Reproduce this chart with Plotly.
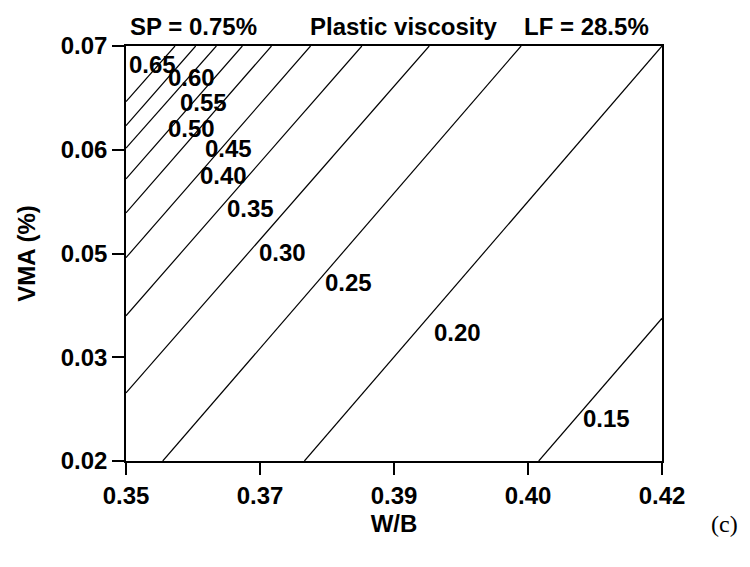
import plotly.graph_objects as go

# Contour levels of plastic viscosity and the end points of each (straight) contour line
levels = [0.65, 0.60, 0.55, 0.50, 0.45, 0.40, 0.35, 0.30, 0.25, 0.20, 0.15]
line_x0 = [0.35, 0.35, 0.35, 0.35, 0.35, 0.35, 0.35, 0.35, 0.3548, 0.3733, 0.4039]
line_y0 = [0.0633, 0.0604, 0.0577, 0.0540, 0.0499, 0.0445, 0.0375, 0.0282, 0.02, 0.02, 0.02]
line_x1 = [0.3564, 0.3591, 0.3618, 0.3652, 0.3690, 0.3741, 0.3808, 0.3896, 0.4016, 0.42, 0.42]
line_y1 = [0.07, 0.07, 0.07, 0.07, 0.07, 0.07, 0.07, 0.07, 0.07, 0.07, 0.0372]

# Contour label positions
label_x = [0.3534, 0.3585, 0.3601, 0.3585, 0.3634, 0.3627, 0.3663, 0.3704, 0.3791, 0.3933, 0.4127]
label_y = [0.0678, 0.0662, 0.0632, 0.0601, 0.0576, 0.0544, 0.0504, 0.0451, 0.0415, 0.0355, 0.0251]

# Axis ticks
x_tickvals = [0.35, 0.3675, 0.385, 0.4025, 0.42]
x_ticktext = ["0.35", "0.37", "0.39", "0.40", "0.42"]
y_tickvals = [0.02, 0.0325, 0.045, 0.0575, 0.07]
y_ticktext = ["0.02", "0.03", "0.05", "0.06", "0.07"]

FONT = "Liberation Sans, Arial, sans-serif"
FS = 24

fig = go.Figure()
for lv, xa, ya, xb, yb in zip(levels, line_x0, line_y0, line_x1, line_y1):
    fig.add_trace(go.Scatter(x=[xa, xb], y=[ya, yb], mode="lines",
                             line=dict(color="black", width=1.2),
                             name=f"{lv:.2f}", showlegend=False, hoverinfo="skip"))

for lv, lx, ly in zip(levels, label_x, label_y):
    fig.add_annotation(x=lx, y=ly, xref="x", yref="y", text=f"{lv:.2f}",
                       showarrow=False,
                       font=dict(family=FONT, size=FS, color="black", weight="bold"))

top_texts = [("SP = 0.75%", 193), ("Plastic viscosity", 403), ("LF = 28.5%", 586)]
for txt, px in top_texts:
    fig.add_annotation(x=(px - 126) / 536, y=1 + (46 - 26) / 415, xref="paper", yref="paper",
                       text=txt, showarrow=False, xanchor="center", yanchor="middle",
                       font=dict(family=FONT, size=FS, color="black", weight="bold"))

fig.add_annotation(x=(724 - 126) / 536, y=-(524 - 461) / 415, xref="paper", yref="paper",
                   text="(c)", showarrow=False, xanchor="center", yanchor="middle",
                   font=dict(family="Liberation Serif, Times New Roman, serif", size=24, color="black"))

axis_common = dict(showline=True, linecolor="black", linewidth=1.5, mirror=True,
                   ticks="outside", ticklen=12, tickwidth=1.5, tickcolor="black",
                   showgrid=False, zeroline=False,
                   tickfont=dict(family=FONT, size=FS, color="black", weight="bold"))

fig.update_xaxes(range=[0.35, 0.42], tickvals=x_tickvals, ticktext=x_ticktext,
                 title=dict(text="W/B", standoff=8,
                            font=dict(family=FONT, size=FS, color="black", weight="bold")),
                 **axis_common)
fig.update_yaxes(range=[0.02, 0.07], tickvals=y_tickvals, ticktext=y_ticktext,
                 title=dict(text="VMA (%)", standoff=18,
                            font=dict(family=FONT, size=FS, color="black", weight="bold")),
                 **axis_common)

# the page body has an 8px margin, so margins are offset by 8px
fig.update_layout(width=750, height=567, plot_bgcolor="white", paper_bgcolor="white",
                  margin=dict(l=118, r=96, t=38, b=114, autoexpand=False),
                  font=dict(family=FONT, size=FS, color="black"))

fig.write_html("out.html")
